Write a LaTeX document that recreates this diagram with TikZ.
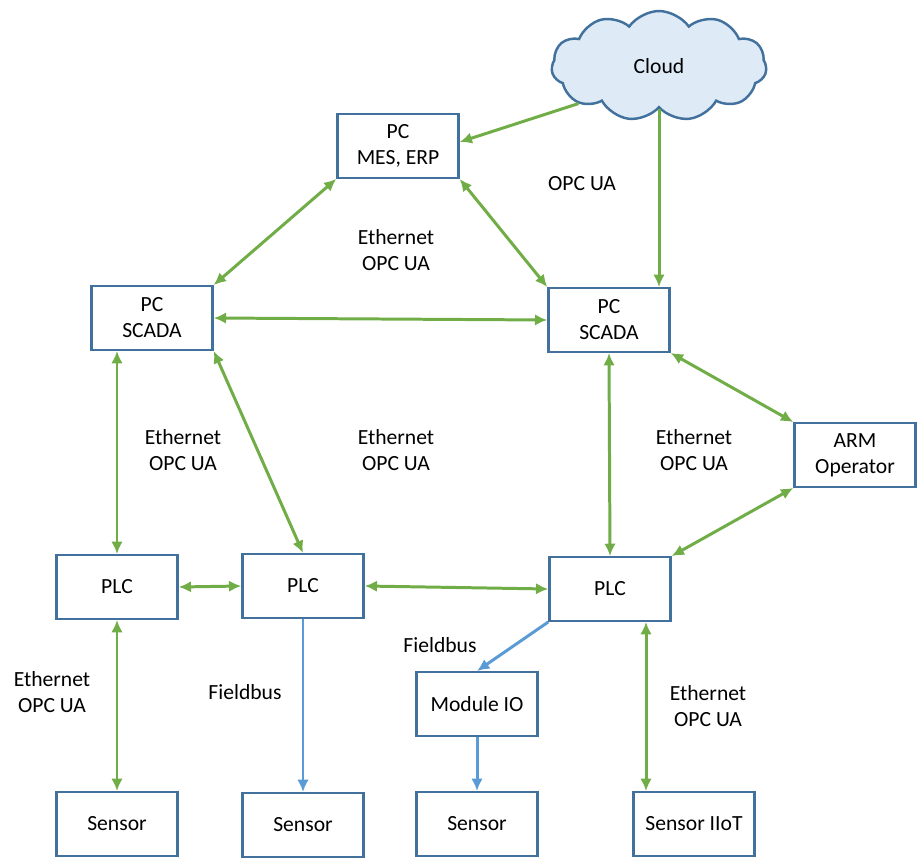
\documentclass[tikz,border=0pt]{standalone}
\usepackage{fontspec}
\setmainfont{Carlito}
\usepackage{tikz}
\usetikzlibrary{shapes.symbols,arrows.meta,positioning,calc}
\definecolor{frame}{RGB}{65,113,156}
\definecolor{eth}{RGB}{112,173,71}
\definecolor{bus}{RGB}{91,155,213}
\definecolor{sky}{RGB}{222,235,247}

\begin{document}
\begin{tikzpicture}[x=0.02cm,y=-0.02cm,font=\fontsize{12.3}{14.8}\selectfont,
  box/.style={draw=frame,line width=1.4pt,fill=white,minimum width=2.42cm,minimum height=1.27cm,align=center,inner sep=2pt},
  skybox/.style={cloud,cloud puffs=11,cloud puff arc=110,aspect=2,draw=frame,line width=1.4pt,fill=sky,minimum width=4.3cm,minimum height=2.2cm,inner sep=0pt},
  lnk/.style={{Latex[length=7pt,width=6.5pt]}-{Latex[length=7pt,width=6.5pt]},line width=1.7pt,color=eth},
  one/.style={-{Latex[length=7pt,width=6.5pt]},line width=1.7pt,color=eth},
  fb/.style={-{Latex[length=7pt,width=6.5pt]},line width=1.7pt,color=bus},
  lbl/.style={align=center,inner sep=0pt}]
  \useasboundingbox (0,0) rectangle (919,858);
  % nodes
  \node[skybox] (cloud) at (659,66) {Cloud};
  \node[box] (mes) at (398,146) {PC\\MES, ERP};
  \node[box] (scadaL) at (152,318) {PC\\SCADA};
  \node[box] (scadaR) at (609,320) {PC\\SCADA};
  \node[box] (arm) at (855,455) {ARM\\Operator};
  \node[box] (plc1) at (117,587) {PLC};
  \node[box] (plc2) at (303,586) {PLC};
  \node[box] (plc3) at (610,589) {PLC};
  \node[box] (mio) at (477,704) {Module IO};
  \node[box] (sen1) at (117,824) {Sensor};
  \node[box] (sen2) at (303,825) {Sensor};
  \node[box] (sen3) at (477,824) {Sensor};
  \node[box] (iiot) at (694,824) {Sensor IIoT};
  % labels
  \node[lbl] (l0) at (582,184) {OPC UA};
  \node[lbl] (l1) at (396,250) {Ethernet\\OPC UA};
  \node[lbl] (l2) at (183,450) {Ethernet\\OPC UA};
  \node[lbl] (l3) at (396,450) {Ethernet\\OPC UA};
  \node[lbl] (l4) at (694,450) {Ethernet\\OPC UA};
  \node[lbl] (l5) at (52,692) {Ethernet\\OPC UA};
  \node[lbl] (l6) at (708,706) {Ethernet\\OPC UA};
  \node[lbl] (f1) at (245,692) {Fieldbus};
  \node[lbl] (f2) at (440,645) {Fieldbus};
  % connectors
  \draw[one] (cloud.205) -- ($(mes.east)+(0,-4)$);
  \draw[one] (cloud.south) -- (cloud.south |- scadaR.north);
  \draw[lnk] (mes.south west) -- (scadaL.north east);
  \draw[lnk] (mes.south east) -- (scadaR.north west);
  \draw[lnk] (scadaL.east) -- (scadaR.west);
  \draw[lnk] (plc1.north |- scadaL.south) -- (plc1.north);
  \draw[lnk] (scadaL.south east) -- (plc2.north);
  \draw[lnk] (scadaR.south) -- (plc3.north);
  \draw[lnk] (scadaR.south east) -- (arm.north west);
  \draw[lnk] (arm.south west) -- (plc3.north east);
  \draw[lnk] (plc1.east) -- (plc2.west);
  \draw[lnk] (plc2.east) -- (plc3.west);
  \draw[lnk] (plc1.south) -- (sen1.north);
  \draw[fb] (plc2.south) -- (sen2.north);
  \draw[fb] (plc3.south west) -- (mio.north);
  \draw[fb] (mio.south) -- (sen3.north);
  \draw[lnk] ($(plc3.south)+(36,0)$) coordinate (p) -- (p |- iiot.north);
\end{tikzpicture}
\end{document}
